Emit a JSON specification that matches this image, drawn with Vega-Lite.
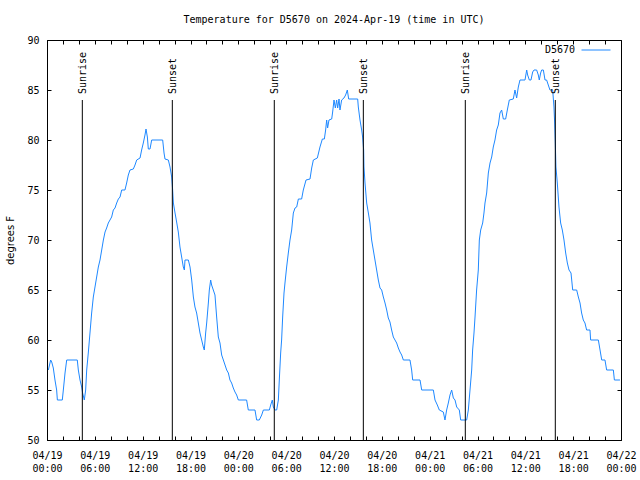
{
  "$schema": "https://vega.github.io/schema/vega-lite/v6.json",
  "width": 574,
  "height": 400,
  "autosize": "none",
  "padding": {"left": 47, "top": 40, "right": 19, "bottom": 40},
  "background": "white",
  "title": {
    "text": "Temperature for D5670 on 2024-Apr-19 (time in UTC)",
    "font": "DejaVu Sans Mono",
    "fontSize": 10,
    "fontWeight": "normal",
    "color": "black",
    "anchor": "middle",
    "offset": 10
  },
  "config": {
    "view": {"stroke": "black", "strokeWidth": 1},
    "axis": {
      "domainColor": "black",
      "tickColor": "black",
      "labelColor": "black",
      "titleColor": "black",
      "grid": false,
      "labelFont": "DejaVu Sans Mono",
      "labelFontSize": 10,
      "titleFont": "DejaVu Sans",
      "titleFontSize": 10,
      "titleFontWeight": "normal"
    }
  },
  "datasets": {
    "temps": [
      {"h": 0.17, "temp": 57}, {"h": 0.46, "temp": 58}, {"h": 0.59, "temp": 57.8}, {"h": 0.79, "temp": 57.2},
      {"h": 1.0, "temp": 56}, {"h": 1.21, "temp": 55}, {"h": 1.3, "temp": 54}, {"h": 1.92, "temp": 54},
      {"h": 2.05, "temp": 55}, {"h": 2.26, "temp": 56.7}, {"h": 2.47, "temp": 58}, {"h": 3.8, "temp": 58},
      {"h": 3.93, "temp": 57}, {"h": 4.14, "temp": 56}, {"h": 4.35, "temp": 55.3}, {"h": 4.47, "temp": 54.7},
      {"h": 4.68, "temp": 54}, {"h": 4.85, "temp": 55}, {"h": 4.98, "temp": 57}, {"h": 5.18, "temp": 58.7},
      {"h": 5.39, "temp": 60.7}, {"h": 5.6, "temp": 62.7}, {"h": 5.81, "temp": 64.3}, {"h": 6.02, "temp": 65.3},
      {"h": 6.23, "temp": 66.3}, {"h": 6.44, "temp": 67.3}, {"h": 6.65, "temp": 68}, {"h": 6.86, "temp": 69},
      {"h": 7.07, "temp": 70}, {"h": 7.28, "temp": 70.8}, {"h": 7.48, "temp": 71.2}, {"h": 7.69, "temp": 71.7},
      {"h": 7.9, "temp": 72}, {"h": 8.11, "temp": 72.3}, {"h": 8.32, "temp": 73}, {"h": 8.53, "temp": 73.2},
      {"h": 8.74, "temp": 73.7}, {"h": 8.95, "temp": 74.1}, {"h": 9.16, "temp": 74.3}, {"h": 9.37, "temp": 75},
      {"h": 9.78, "temp": 75}, {"h": 9.99, "temp": 75.7}, {"h": 10.2, "temp": 76.5}, {"h": 10.41, "temp": 77},
      {"h": 10.83, "temp": 77.1}, {"h": 11.04, "temp": 77.5}, {"h": 11.25, "temp": 78}, {"h": 11.67, "temp": 78.2},
      {"h": 11.87, "temp": 79}, {"h": 12.08, "temp": 79.7}, {"h": 12.29, "temp": 80.5}, {"h": 12.42, "temp": 81.1},
      {"h": 12.59, "temp": 80.3}, {"h": 12.71, "temp": 79.1}, {"h": 12.92, "temp": 79.1}, {"h": 13.13, "temp": 80},
      {"h": 14.51, "temp": 80}, {"h": 14.68, "temp": 78.7}, {"h": 14.8, "temp": 78.1}, {"h": 15.22, "temp": 78},
      {"h": 15.43, "temp": 77.3}, {"h": 15.64, "temp": 76.3}, {"h": 15.76, "temp": 75}, {"h": 15.85, "temp": 73.7},
      {"h": 16.06, "temp": 72.7}, {"h": 16.26, "temp": 71.8}, {"h": 16.47, "temp": 70.8}, {"h": 16.68, "temp": 69.3},
      {"h": 16.89, "temp": 68.3}, {"h": 17.1, "temp": 67.3}, {"h": 17.23, "temp": 67}, {"h": 17.31, "temp": 68},
      {"h": 17.73, "temp": 68}, {"h": 17.94, "temp": 67.3}, {"h": 18.15, "temp": 66}, {"h": 18.36, "temp": 64.3},
      {"h": 18.56, "temp": 63.3}, {"h": 18.77, "temp": 62.7}, {"h": 18.98, "temp": 61.7}, {"h": 19.19, "temp": 60.7},
      {"h": 19.4, "temp": 60}, {"h": 19.61, "temp": 59.3}, {"h": 19.73, "temp": 59}, {"h": 19.9, "temp": 60.7},
      {"h": 20.03, "temp": 61.7}, {"h": 20.24, "temp": 63.7}, {"h": 20.36, "temp": 65}, {"h": 20.53, "temp": 66},
      {"h": 20.65, "temp": 65.5}, {"h": 20.86, "temp": 65}, {"h": 21.07, "temp": 64.5}, {"h": 21.28, "temp": 62.3},
      {"h": 21.49, "temp": 60.3}, {"h": 21.7, "temp": 59.7}, {"h": 21.91, "temp": 58.5}, {"h": 22.12, "temp": 58},
      {"h": 22.33, "temp": 57.5}, {"h": 22.54, "temp": 57}, {"h": 22.75, "temp": 56.7}, {"h": 22.95, "temp": 56},
      {"h": 23.16, "temp": 55.7}, {"h": 23.37, "temp": 55.2}, {"h": 23.58, "temp": 54.8}, {"h": 23.79, "temp": 54.5},
      {"h": 24.0, "temp": 54}, {"h": 25.04, "temp": 54}, {"h": 25.25, "temp": 53}, {"h": 26.09, "temp": 53},
      {"h": 26.3, "temp": 52}, {"h": 26.63, "temp": 52}, {"h": 26.93, "temp": 52.5}, {"h": 27.14, "temp": 53},
      {"h": 27.89, "temp": 53}, {"h": 28.06, "temp": 53.5}, {"h": 28.26, "temp": 54}, {"h": 28.39, "temp": 53.3},
      {"h": 28.6, "temp": 53}, {"h": 28.81, "temp": 53}, {"h": 29.02, "temp": 54}, {"h": 29.14, "temp": 56},
      {"h": 29.31, "temp": 58.7}, {"h": 29.43, "temp": 60}, {"h": 29.56, "temp": 62.3}, {"h": 29.73, "temp": 64.7},
      {"h": 29.85, "temp": 65.7}, {"h": 30.06, "temp": 67.3}, {"h": 30.27, "temp": 68.7}, {"h": 30.48, "temp": 70},
      {"h": 30.69, "temp": 71}, {"h": 30.9, "temp": 72.7}, {"h": 31.11, "temp": 73.2}, {"h": 31.32, "temp": 73.3},
      {"h": 31.53, "temp": 74.1}, {"h": 31.94, "temp": 74.1}, {"h": 32.15, "temp": 75}, {"h": 32.49, "temp": 76},
      {"h": 32.99, "temp": 76.1}, {"h": 33.2, "temp": 77.2}, {"h": 33.41, "temp": 78}, {"h": 33.91, "temp": 78.2},
      {"h": 34.24, "temp": 79.3}, {"h": 34.54, "temp": 80.1}, {"h": 34.79, "temp": 80.1}, {"h": 34.95, "temp": 81},
      {"h": 35.08, "temp": 82}, {"h": 35.2, "temp": 81.2}, {"h": 35.37, "temp": 82}, {"h": 35.71, "temp": 82.1},
      {"h": 35.83, "temp": 82.8}, {"h": 36.0, "temp": 84}, {"h": 36.17, "temp": 83.2}, {"h": 36.33, "temp": 84},
      {"h": 36.46, "temp": 83.2}, {"h": 36.63, "temp": 84.1}, {"h": 36.75, "temp": 83}, {"h": 36.96, "temp": 84},
      {"h": 37.25, "temp": 84.2}, {"h": 37.46, "temp": 84.5}, {"h": 37.67, "temp": 85}, {"h": 37.84, "temp": 84.1},
      {"h": 38.97, "temp": 84.1}, {"h": 39.05, "temp": 83.3}, {"h": 39.26, "temp": 82}, {"h": 39.47, "temp": 81},
      {"h": 39.59, "temp": 80.3}, {"h": 39.72, "temp": 79}, {"h": 39.76, "temp": 77.3}, {"h": 39.89, "temp": 75.7},
      {"h": 40.1, "temp": 73.7}, {"h": 40.31, "temp": 72.7}, {"h": 40.51, "temp": 71.7}, {"h": 40.72, "temp": 70},
      {"h": 40.93, "temp": 69}, {"h": 41.14, "temp": 68}, {"h": 41.35, "temp": 67}, {"h": 41.56, "temp": 66},
      {"h": 41.77, "temp": 65.2}, {"h": 41.98, "temp": 65}, {"h": 42.19, "temp": 64.3}, {"h": 42.4, "temp": 63.7},
      {"h": 42.61, "temp": 63}, {"h": 42.81, "temp": 62.2}, {"h": 43.02, "temp": 61.8}, {"h": 43.23, "temp": 61},
      {"h": 43.44, "temp": 60.3}, {"h": 43.65, "temp": 60}, {"h": 43.86, "temp": 59.7}, {"h": 44.07, "temp": 59.2},
      {"h": 44.28, "temp": 58.8}, {"h": 44.49, "temp": 58.5}, {"h": 44.7, "temp": 58}, {"h": 45.53, "temp": 58},
      {"h": 45.74, "temp": 57}, {"h": 45.87, "temp": 56}, {"h": 46.79, "temp": 56}, {"h": 47.0, "temp": 55},
      {"h": 48.46, "temp": 55}, {"h": 48.67, "temp": 54}, {"h": 48.96, "temp": 53.5}, {"h": 49.21, "temp": 53},
      {"h": 49.71, "temp": 52.8}, {"h": 49.92, "temp": 52}, {"h": 50.13, "temp": 53}, {"h": 50.34, "temp": 53.7},
      {"h": 50.55, "temp": 54.5}, {"h": 50.76, "temp": 55}, {"h": 50.97, "temp": 54.2}, {"h": 51.18, "temp": 54},
      {"h": 51.39, "temp": 53.3}, {"h": 51.72, "temp": 53}, {"h": 51.89, "temp": 52}, {"h": 52.64, "temp": 52},
      {"h": 52.85, "temp": 53}, {"h": 53.06, "temp": 55}, {"h": 53.27, "temp": 57}, {"h": 53.39, "temp": 59},
      {"h": 53.56, "temp": 60.7}, {"h": 53.69, "temp": 62.3}, {"h": 53.89, "temp": 65}, {"h": 54.1, "temp": 67},
      {"h": 54.23, "temp": 70}, {"h": 54.4, "temp": 71}, {"h": 54.65, "temp": 71.7}, {"h": 54.81, "temp": 72.7},
      {"h": 54.94, "temp": 73.7}, {"h": 55.15, "temp": 74.7}, {"h": 55.36, "temp": 76.7}, {"h": 55.57, "temp": 77.7},
      {"h": 55.78, "temp": 78.3}, {"h": 55.98, "temp": 79.3}, {"h": 56.19, "temp": 80}, {"h": 56.4, "temp": 81},
      {"h": 56.61, "temp": 81.5}, {"h": 56.82, "temp": 82.7}, {"h": 57.03, "temp": 83}, {"h": 57.24, "temp": 82.1},
      {"h": 57.53, "temp": 82.1}, {"h": 57.74, "temp": 83}, {"h": 57.99, "temp": 84}, {"h": 58.49, "temp": 84.1},
      {"h": 58.7, "temp": 85}, {"h": 58.91, "temp": 84.2}, {"h": 59.12, "temp": 85.3}, {"h": 59.33, "temp": 86},
      {"h": 59.96, "temp": 86}, {"h": 60.17, "temp": 87}, {"h": 60.29, "temp": 86.5}, {"h": 60.5, "temp": 86},
      {"h": 60.71, "temp": 86}, {"h": 60.92, "temp": 86.8}, {"h": 61.09, "temp": 87}, {"h": 61.42, "temp": 87},
      {"h": 61.63, "temp": 86.5}, {"h": 61.75, "temp": 86}, {"h": 61.92, "temp": 86.7}, {"h": 62.05, "temp": 87},
      {"h": 62.26, "temp": 87}, {"h": 62.47, "temp": 86}, {"h": 62.67, "temp": 86}, {"h": 62.88, "temp": 85.5},
      {"h": 63.09, "temp": 85}, {"h": 63.43, "temp": 85}, {"h": 63.59, "temp": 83.3}, {"h": 63.68, "temp": 81.7},
      {"h": 63.76, "temp": 79.7}, {"h": 63.84, "temp": 77.3}, {"h": 64.01, "temp": 75.7}, {"h": 64.22, "temp": 73.3},
      {"h": 64.43, "temp": 71.7}, {"h": 64.64, "temp": 71}, {"h": 64.85, "temp": 70}, {"h": 65.06, "temp": 68.7},
      {"h": 65.27, "temp": 67.7}, {"h": 65.48, "temp": 67}, {"h": 65.73, "temp": 66.7}, {"h": 65.94, "temp": 65},
      {"h": 66.44, "temp": 65}, {"h": 66.65, "temp": 64.3}, {"h": 66.86, "temp": 63.7}, {"h": 67.06, "temp": 62.7},
      {"h": 67.27, "temp": 62}, {"h": 67.48, "temp": 61.7}, {"h": 67.69, "temp": 61}, {"h": 68.11, "temp": 61},
      {"h": 68.19, "temp": 60}, {"h": 69.16, "temp": 60}, {"h": 69.37, "temp": 59}, {"h": 69.58, "temp": 58},
      {"h": 69.99, "temp": 58}, {"h": 70.2, "temp": 57}, {"h": 71.04, "temp": 57}, {"h": 71.17, "temp": 56},
      {"h": 71.87, "temp": 56}
    ],
    "sun": [
      {"h": 4.43, "event": "Sunrise"}, {"h": 15.72, "event": "Sunset"},
      {"h": 28.51, "event": "Sunrise"}, {"h": 39.68, "event": "Sunset"},
      {"h": 52.47, "event": "Sunrise"}, {"h": 63.76, "event": "Sunset"}
    ]
  },
  "layer": [
    {
      "data": {"name": "temps"},
      "mark": {"type": "line", "strokeWidth": 1, "interpolate": "linear"},
      "encoding": {
        "x": {
          "field": "h", "type": "quantitative",
          "scale": {"domain": [0, 72], "nice": false, "zero": false},
          "axis": {
            "orient": "bottom",
            "title": null,
            "values": [0,2,4,6,8,10,12,14,16,18,20,22,24,26,28,30,32,34,36,38,40,42,44,46,48,50,52,54,56,58,60,62,64,66,68,70,72],
            "tickSize": -4,
            "labelPadding": 14,
            "labelFlush": false,
            "labelOverlap": false,
            "labelLineHeight": 13,
            "labelBaseline": "top",
            "labelExpr": "datum.value % 6 == 0 ? ['04/' + (19 + floor(datum.value / 24)), (datum.value % 24 < 10 ? '0' : '') + (datum.value % 24) + ':00'] : ''"
          }
        },
        "y": {
          "field": "temp", "type": "quantitative",
          "scale": {"domain": [50, 90], "nice": false, "zero": false},
          "axis": {
            "orient": "left",
            "title": "degrees F",
            "titlePadding": 11,
            "values": [50, 55, 60, 65, 70, 75, 80, 85, 90],
            "tickSize": -4,
            "labelPadding": 12
          }
        },
        "color": {
          "datum": "D5670",
          "type": "nominal",
          "scale": {"range": ["#1E88FF"]},
          "legend": {
            "title": null,
            "orient": "none",
            "legendX": 534,
            "legendY": -5,
            "padding": 0,
            "symbolType": "stroke",
            "symbolSize": 841,
            "symbolStrokeWidth": 1,
            "labelAlign": "right",
            "labelOffset": -36,
            "labelFont": "DejaVu Sans Mono",
            "labelFontSize": 10,
            "labelColor": "black"
          }
        }
      }
    },
    {
      "data": {"name": "sun"},
      "mark": {"type": "rule", "color": "black", "strokeWidth": 1},
      "encoding": {
        "x": {"field": "h", "type": "quantitative", "axis": null},
        "y": {"datum": 84, "axis": null},
        "y2": {"datum": 50}
      }
    },
    {
      "data": {"name": "sun"},
      "mark": {"type": "text", "angle": 270, "align": "left", "baseline": "middle", "font": "DejaVu Sans Mono", "fontSize": 10, "color": "black", "dy": 1},
      "encoding": {
        "x": {"field": "h", "type": "quantitative", "axis": null},
        "y": {"datum": 84.6, "axis": null},
        "text": {"field": "event"}
      }
    },
    {
      "data": {"values": [{}]},
      "mark": {"type": "rule", "opacity": 0},
      "encoding": {
        "x": {"datum": 0, "type": "quantitative", "axis": {"orient": "top", "title": null, "labels": false, "domain": false, "values": [0,2,4,6,8,10,12,14,16,18,20,22,24,26,28,30,32,34,36,38,40,42,44,46,48,50,52,54,56,58,60,62,64,66,68,70,72], "tickSize": -4}},
        "y": {"datum": 50, "type": "quantitative", "axis": {"orient": "right", "title": null, "labels": false, "domain": false, "values": [50, 55, 60, 65, 70, 75, 80, 85, 90], "tickSize": -4}}
      }
    }
  ]
}
